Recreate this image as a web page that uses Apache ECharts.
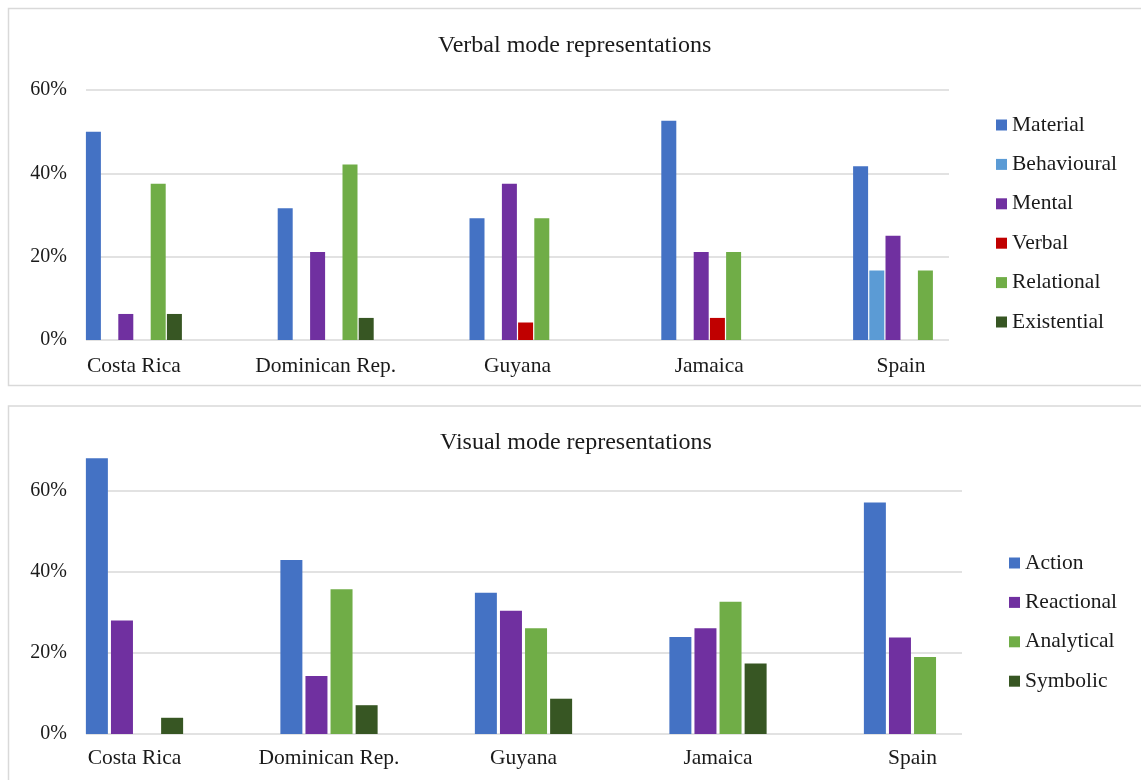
<!DOCTYPE html>
<html>
<head>
<meta charset="utf-8">
<title>Verbal and visual mode representations</title>
<script src="https://cdn.jsdelivr.net/npm/echarts@6/dist/echarts.min.js"></script>
<style>
  html, body { margin: 0; padding: 0; background: #ffffff; }
  #chart { width: 1141px; height: 780px; }
</style>
</head>
<body>
<div id="chart"></div>
<script>
// Countries shown along both horizontal axes
const countries = ['Costa Rica', 'Dominican Rep.', 'Guyana', 'Jamaica', 'Spain'];

// Verbal mode: share of each process type per country (%)
const verbalSeriesNames = ['Material', 'Behavioural', 'Mental', 'Verbal', 'Relational', 'Existential'];
const material    = [50.0, 31.6, 29.2, 52.6, 41.7];
const behavioural = [0, 0, 0, 0, 16.7];
const mental      = [6.25, 21.1, 37.5, 21.1, 25.0];
const verbal      = [0, 0, 4.2, 5.3, 0];
const relational  = [37.5, 42.1, 29.2, 21.1, 16.7];
const existential = [6.25, 5.3, 0, 0, 0];

// Visual mode: share of each representation type per country (%)
const visualSeriesNames = ['Action', 'Reactional', 'Analytical', 'Symbolic'];
const action     = [68.0, 42.9, 34.8, 23.9, 57.1];
const reactional = [28.0, 14.3, 30.4, 26.1, 23.8];
const analytical = [0, 35.7, 26.1, 32.6, 19.0];
const symbolic   = [4.0, 7.1, 8.7, 17.4, 0];

// Percentage tick values on the vertical axes
const yTicks = [0, 20, 40, 60];

const FONT = "'Liberation Serif', 'Times New Roman', serif";
const TEXT = '#1a1a1a';
const GRID_GRAY = '#d9d9d9';

const verbalColors = ['#4472C4', '#5B9BD5', '#7030A0', '#C00000', '#70AD47', '#375623'];
const visualColors = ['#4472C4', '#7030A0', '#70AD47', '#375623'];

const verbalData = [material, behavioural, mental, verbal, relational, existential];
const visualData = [action, reactional, analytical, symbolic];

const tickMax = yTicks[yTicks.length - 1];
const tickStep = yTicks[1] - yTicks[0];

function percentAxis(gridIndex) {
  return {
    type: 'value', gridIndex: gridIndex,
    min: yTicks[0], max: tickMax, interval: tickStep,
    axisLine: { show: false }, axisTick: { show: false },
    axisLabel: { formatter: '{value}%', fontFamily: FONT, fontSize: 20, color: TEXT, margin: 19 },
    splitLine: { lineStyle: { color: GRID_GRAY, width: 1.5 } }
  };
}

function hiddenValueAxis(gridIndex, max) {
  return { type: 'value', gridIndex: gridIndex, min: 0, max: max, show: false, splitLine: { show: false } };
}

function countryAxis(gridIndex, margin) {
  return {
    type: 'category', gridIndex: gridIndex, data: countries,
    axisLine: { show: false }, axisTick: { show: false },
    axisLabel: { fontFamily: FONT, fontSize: 21.5, color: TEXT, margin: margin, interval: 0 },
    splitLine: { show: false }
  };
}

const series = [];
verbalSeriesNames.forEach((name, i) => {
  series.push({
    name: name, type: 'bar', xAxisIndex: 1, yAxisIndex: 1,
    data: verbalData[i], barWidth: 15, barGap: '8%',
    itemStyle: { color: verbalColors[i] }, legendHoverLink: false
  });
});
visualSeriesNames.forEach((name, i) => {
  series.push({
    name: name, type: 'bar', xAxisIndex: 3, yAxisIndex: 3,
    data: visualData[i], barWidth: 22, barGap: '14%',
    itemStyle: { color: visualColors[i] }, legendHoverLink: false
  });
});

const legendText = { fontFamily: FONT, fontSize: 21.5, color: TEXT, lineHeight: 20 };

const option = {
  animation: false,
  backgroundColor: '#ffffff',
  title: [
    { text: 'Verbal mode representations', left: 433, top: 29,
      textStyle: { fontFamily: FONT, fontSize: 24, fontWeight: 'normal', color: TEXT } },
    { text: 'Visual mode representations', left: 435, top: 426,
      textStyle: { fontFamily: FONT, fontSize: 24, fontWeight: 'normal', color: TEXT } }
  ],
  legend: [
    { data: verbalSeriesNames, orient: 'vertical', left: 991, top: 109,
      icon: 'rect', itemWidth: 11, itemHeight: 11, itemGap: 17.4,
      textStyle: legendText, selectedMode: false },
    { data: visualSeriesNames, orient: 'vertical', left: 1004, top: 547,
      icon: 'rect', itemWidth: 11, itemHeight: 11, itemGap: 17.4,
      textStyle: legendText, selectedMode: false }
  ],
  grid: [
    // verbal: gridline area, bar area
    { left: 86, top: 90, width: 863, height: 250 },
    { left: 38, top: 90, width: 959, height: 250 },
    // visual: gridline area, bar area
    { left: 86, top: 490.7, width: 876, height: 243.3 },
    { left: 37.25, top: 450.1, width: 972.5, height: 283.9 }
  ],
  xAxis: [
    { type: 'value', gridIndex: 0, show: false },
    countryAxis(1, 15),
    { type: 'value', gridIndex: 2, show: false },
    countryAxis(3, 13)
  ],
  yAxis: [
    percentAxis(0),
    hiddenValueAxis(1, tickMax),
    percentAxis(2),
    hiddenValueAxis(3, 70)
  ],
  graphic: [
    { type: 'rect', silent: true, z: -1,
      shape: { x: 8.5, y: 8.5, width: 1150, height: 377 },
      style: { fill: 'none', stroke: GRID_GRAY, lineWidth: 1.5 } },
    { type: 'rect', silent: true, z: -1,
      shape: { x: 8.5, y: 406, width: 1150, height: 400 },
      style: { fill: 'none', stroke: GRID_GRAY, lineWidth: 1.5 } }
  ],
  series: series
};

const chart = echarts.init(document.getElementById('chart'), null, { renderer: 'canvas' });
chart.setOption(option);
</script>
</body>
</html>
